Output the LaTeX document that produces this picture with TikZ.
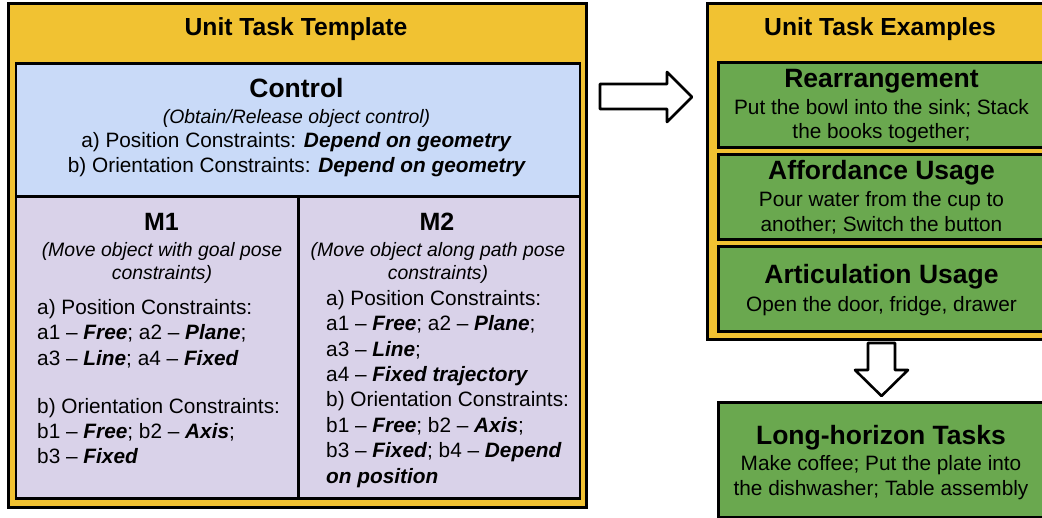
\documentclass[tikz,border=0pt]{standalone}
\usepackage{fontspec}
\setmainfont{Liberation Sans}
\newcommand{\bfit}[1]{\textbf{\textit{#1}}}
\definecolor{ylw}{HTML}{F1C232}
\definecolor{lblue}{HTML}{C9DAF8}
\definecolor{lav}{HTML}{D9D2E9}
\definecolor{grn}{HTML}{6AA84F}
\begin{document}
\begin{tikzpicture}[x=1pt,y=-1pt,
  box/.style={draw=black, line width=2.6pt, inner sep=0, anchor=north west},
  ttl/.style={font=\fontsize{24.7}{30}\selectfont\bfseries, inner sep=0, anchor=base},
  hd/.style={font=\fontsize{26.5}{32}\selectfont\bfseries, inner sep=0, anchor=base},
  mh/.style={font=\fontsize{25}{30}\selectfont\bfseries, inner sep=0, anchor=base},
  itl/.style={font=\fontsize{19.4}{24}\selectfont\itshape, inner sep=0, anchor=base},
  bd/.style={font=\fontsize{20.8}{25}\selectfont, inner sep=0, anchor=base},
  bdl/.style={bd, anchor=base west},
  blk/.style={draw=black, fill=white, line width=2.6pt, line join=round}]
\useasboundingbox (0,0) rectangle (1042,518);
\begin{scope}
\clip (0,0) rectangle (1042,518);
% left template
\node[box, fill=ylw, minimum width=578pt, minimum height=504pt] (tmpl) at (7,2) {};
\node[box, fill=lblue, minimum width=564pt, minimum height=133pt] (ctrl) at (14.5,62) {};
\node[box, fill=lav, minimum width=282.5pt, minimum height=302pt] (m1) at (14.5,195) {};
\node[box, fill=lav, minimum width=281.5pt, minimum height=302pt] (m2) at (297,195) {};
\node[ttl] (tmplt) at (296,36) {Unit Task Template};
\node[hd] (ctrlt) at (296.5,98) {Control};
\node[itl] (ctrl1) at (296.5,123.5) {(Obtain/Release object control)};
\node[bd] (ctrl2) at (296.5,148) {a) Position Constraints: \bfit{Depend on geometry}};
\node[bd] (ctrl3) at (297,173) {b) Orientation Constraints: \bfit{Depend on geometry}};
% M1
\node[mh] (m1t) at (161.5,231) {M1};
\node[itl] (m1i1) at (162,257) {(Move object with goal pose};
\node[itl] (m1i2) at (162,280) {constraints)};
\node[bdl] (m1a) at (37,315) {a) Position Constraints:};
\node[bdl] (m1a1) at (37,340) {a1 – \bfit{Free}; a2 – \bfit{Plane};};
\node[bdl] (m1a3) at (37,365.5) {a3 – \bfit{Line}; a4 – \bfit{Fixed}};
\node[bdl] (m1b) at (37,414) {b) Orientation Constraints:};
\node[bdl] (m1b1) at (37,439) {b1 – \bfit{Free}; b2 – \bfit{Axis};};
\node[bdl] (m1b3) at (37,464) {b3 – \bfit{Fixed}};
% M2
\node[mh] (m2t) at (437,231) {M2};
\node[itl] (m2i1) at (438,257) {(Move object along path pose};
\node[itl] (m2i2) at (438,280) {constraints)};
\node[bdl] (m2a) at (326,305.5) {a) Position Constraints:};
\node[bdl] (m2a1) at (326,331) {a1 – \bfit{Free}; a2 – \bfit{Plane};};
\node[bdl] (m2a3) at (326,356.5) {a3 – \bfit{Line};};
\node[bdl] (m2a4) at (326,382) {a4 – \bfit{Fixed trajectory}};
\node[bdl] (m2b) at (326,407) {b) Orientation Constraints:};
\node[bdl] (m2b1) at (326,432.5) {b1 – \bfit{Free}; b2 – \bfit{Axis};};
\node[bdl] (m2b3) at (326,458) {b3 – \bfit{Fixed}; b4 – \bfit{Depend}};
\node[bdl] (m2b4) at (326,483) {\bfit{on position}};
% right examples
\node[box, fill=ylw, minimum width=351pt, minimum height=336pt] (ex) at (706,2) {};
\node[box, fill=grn, minimum width=329pt, minimum height=85pt] (rea) at (717,61) {};
\node[box, fill=grn, minimum width=329pt, minimum height=85pt] (aff) at (717,153) {};
\node[box, fill=grn, minimum width=329pt, minimum height=85pt] (art) at (717,245) {};
\node[box, fill=grn, minimum width=329pt, minimum height=115pt] (lh) at (717,401) {};
\node[ttl] (ext) at (880,36) {Unit Task Examples};
\node[hd] (reat) at (881.5,88) {Rearrangement};
\node[bd] (rea1) at (881.5,115) {Put the bowl into the sink; Stack};
\node[bd] (rea2) at (881.5,139) {the books together;};
\node[hd] (afft) at (881.5,180) {Affordance Usage};
\node[bd] (aff1) at (881.5,207) {Pour water from the cup to};
\node[bd] (aff2) at (881.5,232) {another; Switch the button};
\node[hd] (artt) at (881.5,284) {Articulation Usage};
\node[bd] (art1) at (881.5,312) {Open the door, fridge, drawer};
\node[hd] (lht) at (881,445) {Long-horizon Tasks};
\node[bd] (lh1) at (881,471) {Make coffee; Put the plate into};
\node[bd] (lh2) at (881,496) {the dishwasher; Table assembly};
% block arrows
\draw[blk] (600,84) -- (667,84) -- (667,72) -- (692,97) -- (667,122) -- (667,109) -- (600,109) -- cycle;
\draw[blk] (868,343) -- (895,343) -- (895,370) -- (908,370) -- (881.5,396) -- (855,370) -- (868,370) -- cycle;
\end{scope}
\end{tikzpicture}
\end{document}
